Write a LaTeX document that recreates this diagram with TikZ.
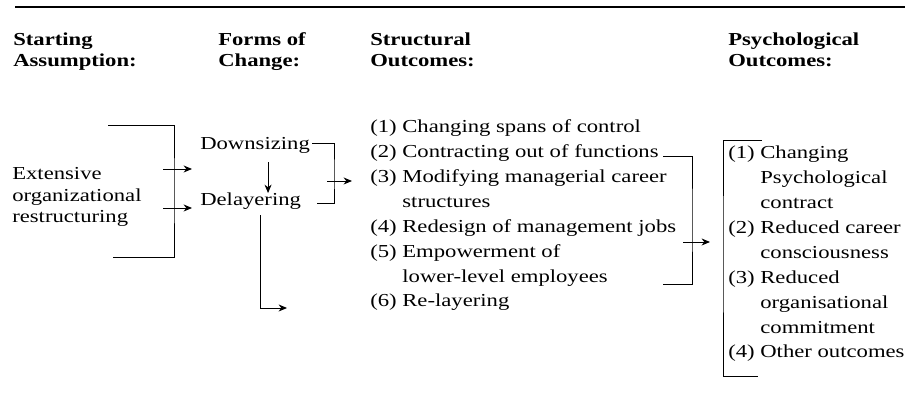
\documentclass[tikz,border=0pt]{standalone}
\usepackage{fontspec}
\setmainfont[FakeStretch=1.24]{Liberation Serif}
\usetikzlibrary{positioning,arrows.meta}
\newcommand{\ind}{\hphantom{(0)\ }}
\begin{document}
\begin{tikzpicture}[x=0.025cm, y=-0.025cm,
    txt/.style={anchor=base west, inner sep=0pt, align=left, font=\fontsize{13}{15.6}\selectfont},
    hdr/.style={txt, font=\fontsize{13}{15.6}\selectfont\bfseries},
    lst/.style={txt, font=\fontsize{13}{17.7}\selectfont},
    ln/.style={line width=0.6pt},
    arr/.style={ln, ->, >={Stealth[length=6pt,width=5pt]}},
  ]
  \useasboundingbox (0,0) rectangle (910,398);

  % top rule
  \coordinate (rl) at (15,7);
  \coordinate (rr) at (905,7);
  \draw[line width=1pt] (rl) -- (rr);

  % headers (base = last line)
  \node[hdr] (h1) at (13,67) {Starting\\Assumption:};
  \node[hdr] (h2) at (218,67) {Forms of\\Change:};
  \node[hdr] (h3) at (370,67) {Structural\\Outcomes:};
  \node[hdr] (h4) at (728,67) {Psychological\\Outcomes:};

  % starting assumption
  \node[txt] (ext) at (12,223) {Extensive\\organizational\\restructuring};

  % forms of change
  \node[txt] (ds) at (200,150) {Downsizing};
  \node[txt] (dl) at (200,206) {Delayering};

  % structural outcomes
  \node[lst] (so) at (370,307) {(1) Changing spans of control\\(2) Contracting out of functions\\(3) Modifying managerial career\\\ind structures\\(4) Redesign of management jobs\\(5) Empowerment of\\\ind lower-level employees\\(6) Re-layering};

  % psychological outcomes
  \node[lst] (po) at (728,358) {(1) Changing\\\ind Psychological\\\ind contract\\(2) Reduced career\\\ind consciousness\\(3) Reduced\\\ind organisational\\\ind commitment\\(4) Other outcomes};

  % left bracket
  \coordinate (lbt) at (108,125);
  \coordinate (lbc) at (174,190);
  \coordinate (lbb) at (113,257);
  \draw[ln] (lbt) -| (lbc) |- (lbb);
  \coordinate (a1) at (163,169);
  \coordinate (a2) at (163,208);
  \draw[arr, shorten >=0.2cm] (a1) -- (a1 -| ds.west);
  \draw[arr, shorten >=0.2cm] (a2) -- (a2 -| dl.west);

  % downsizing to delayering
  \draw[arr, shorten <=0.2cm] ([xshift=0.325cm]ds.south) -- ([xshift=0.325cm]ds.south |- dl.north);

  % bracket of forms
  \coordinate (fbt) at (312,143);
  \coordinate (fbc) at (334,175);
  \coordinate (fbb) at (317,203);
  \draw[ln] (fbt) -| (fbc) |- (fbb);
  \coordinate (fa) at (327,181);
  \draw[arr, shorten >=0.45cm] (fa) -- (fa -| so.west);

  % delayering to re-layering
  \coordinate (rla) at (287,308);
  \draw[arr, shorten <=0.12cm] ([xshift=0.24cm]dl.south) |- (rla);

  % bracket of structural outcomes
  \coordinate (sbt) at (663,156);
  \coordinate (sbc) at (692,220);
  \coordinate (sbb) at (663,284);
  \draw[ln] (sbt) -| (sbc) |- (sbb);
  \coordinate (sa) at (683,242);
  \draw[arr, shorten >=0.45cm] (sa) -- (sa -| po.west);

  % bracket of psychological outcomes
  \coordinate (pbt) at (762,140);
  \coordinate (pbc) at (723,250);
  \coordinate (pbb) at (758,376);
  \draw[ln] (pbt) -| (pbc) |- (pbb);
\end{tikzpicture}
\end{document}
